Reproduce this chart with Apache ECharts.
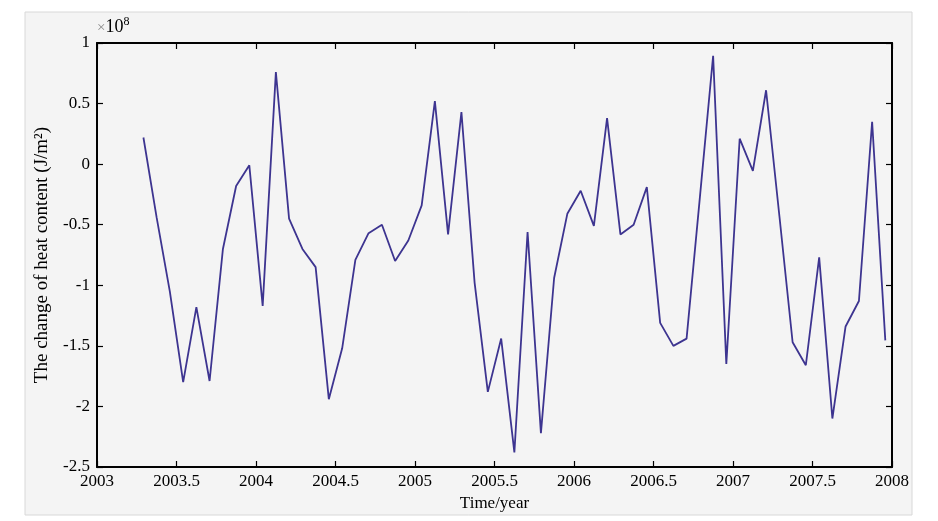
<!DOCTYPE html>
<html>
<head>
<meta charset="utf-8">
<script src="https://cdn.jsdelivr.net/npm/echarts@6/dist/echarts.min.js"></script>
<style>
html,body{margin:0;padding:0;background:#ffffff;}
#chart{width:938px;height:521px;}
</style>
</head>
<body>
<div id="chart"></div>
<script>
// Decimal year of each monthly sample (mid-month), Apr 2003 .. Dec 2007
const times = [
  2003.292, 2003.375, 2003.458, 2003.542, 2003.625, 2003.708, 2003.792, 2003.875, 2003.958,
  2004.042, 2004.125, 2004.208, 2004.292, 2004.375, 2004.458, 2004.542, 2004.625, 2004.708, 2004.792, 2004.875, 2004.958,
  2005.042, 2005.125, 2005.208, 2005.292, 2005.375, 2005.458, 2005.542, 2005.625, 2005.708, 2005.792, 2005.875, 2005.958,
  2006.042, 2006.125, 2006.208, 2006.292, 2006.375, 2006.458, 2006.542, 2006.625, 2006.708, 2006.792, 2006.875, 2006.958,
  2007.042, 2007.125, 2007.208, 2007.292, 2007.375, 2007.458, 2007.542, 2007.625, 2007.708, 2007.792, 2007.875, 2007.958
];
// Change of heat content, in units of 1e8 J/m^2
const heatChange = [
  0.22, -0.44, -1.05, -1.80, -1.18, -1.79, -0.70, -0.18, -0.01,
  -1.17, 0.76, -0.45, -0.70, -0.85, -1.94, -1.52, -0.79, -0.57, -0.50, -0.80, -0.63,
  -0.34, 0.52, -0.58, 0.43, -0.98, -1.88, -1.44, -2.38, -0.56, -2.22, -0.94, -0.41,
  -0.22, -0.51, 0.38, -0.58, -0.50, -0.19, -1.31, -1.50, -1.44, -0.27, 0.895, -1.65,
  0.21, -0.055, 0.61, -0.43, -1.47, -1.66, -0.77, -2.10, -1.34, -1.13, 0.35, -1.455
];
const xTicks = [2003, 2003.5, 2004, 2004.5, 2005, 2005.5, 2006, 2006.5, 2007, 2007.5, 2008];
const yTicks = [-2.5, -2, -1.5, -1, -0.5, 0, 0.5, 1];

const xLabel = 'Time/year';
const yLabel = 'The change of heat content (J/m\u00B2)';

const FONT = '"Liberation Serif", "Times New Roman", serif';
const chart = echarts.init(document.getElementById('chart'), null, {renderer: 'canvas'});

const boxLine = {show: true, onZero: false, lineStyle: {color: '#000', width: 2}};
const inTick = {show: true, inside: true, length: 6, lineStyle: {color: '#000', width: 1.2}};

const option = {
  animation: false,
  backgroundColor: '#ffffff',
  graphic: [
    {type: 'rect', z: -10, silent: true, shape: {x: 25, y: 12, width: 887, height: 503},
     style: {fill: '#f4f4f4', stroke: '#d8d8d8', lineWidth: 1}},
    {type: 'text', left: 97, top: 16, silent: true,
     style: {text: '{a|\u00D7}{b|10}{c|8}', rich: {
       a: {fontFamily: FONT, fontSize: 15, fill: '#888', verticalAlign: 'bottom'},
       b: {fontFamily: FONT, fontSize: 18, fill: '#000', verticalAlign: 'bottom'},
       c: {fontFamily: FONT, fontSize: 12, fill: '#000', verticalAlign: 'top', padding: [0,0,8,0]}
     }}}
  ],
  grid: {left: 97, right: 46, top: 43, bottom: 54, containLabel: false},
  xAxis: [
    {type: 'value', position: 'bottom', min: xTicks[0], max: xTicks[xTicks.length-1], interval: 0.5,
     axisLine: boxLine, axisTick: inTick, splitLine: {show: false},
     axisLabel: {color: '#000', fontFamily: FONT, fontSize: 17, margin: 6, formatter: v => String(v)},
     name: xLabel, nameLocation: 'middle', nameGap: 27,
     nameTextStyle: {color: '#000', fontFamily: FONT, fontSize: 17}},
    {type: 'value', position: 'top', min: xTicks[0], max: xTicks[xTicks.length-1], interval: 0.5,
     axisLine: boxLine, axisTick: inTick, splitLine: {show: false}, axisLabel: {show: false}}
  ],
  yAxis: [
    {type: 'value', position: 'left', min: yTicks[0], max: yTicks[yTicks.length-1], interval: 0.5,
     axisLine: boxLine, axisTick: inTick, splitLine: {show: false},
     axisLabel: {color: '#000', fontFamily: FONT, fontSize: 17, margin: 7, formatter: v => String(v)},
     name: yLabel, nameLocation: 'middle', nameGap: 45,
     nameTextStyle: {color: '#000', fontFamily: FONT, fontSize: 19}},
    {type: 'value', position: 'right', min: yTicks[0], max: yTicks[yTicks.length-1], interval: 0.5,
     axisLine: boxLine, axisTick: inTick, splitLine: {show: false}, axisLabel: {show: false}}
  ],
  series: [{
    type: 'line',
    data: times.map((t, i) => [t, heatChange[i]]),
    showSymbol: false,
    lineStyle: {color: '#3d3490', width: 1.8},
    itemStyle: {color: '#3d3490'}
  }]
};
chart.setOption(option);
</script>
</body>
</html>
